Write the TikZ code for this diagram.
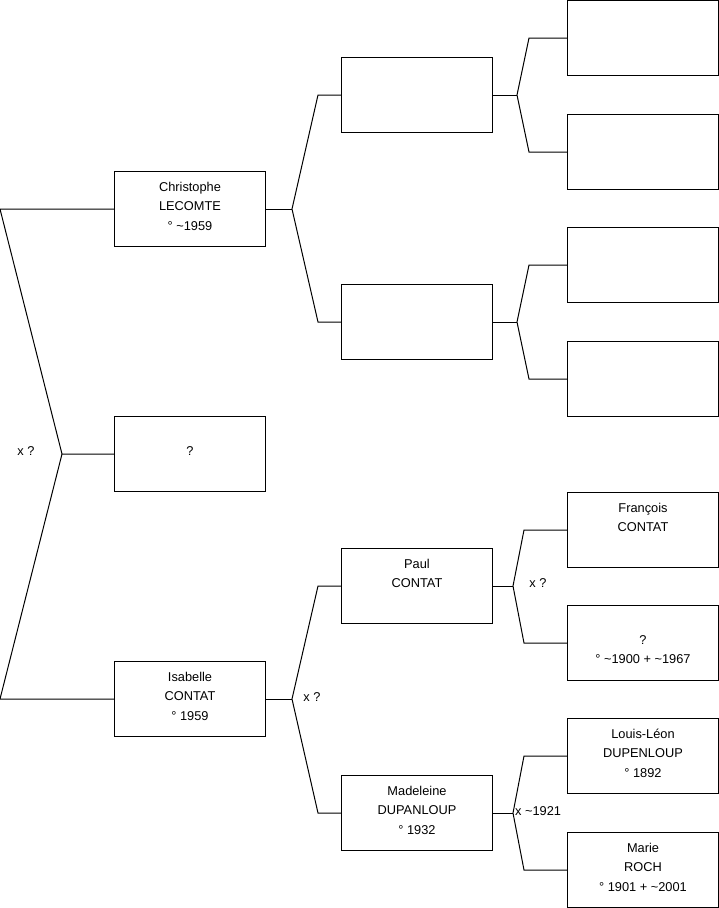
\documentclass[tikz,border=0pt]{standalone}
\usepackage{fontspec}
\setmainfont{Liberation Sans}
\usepackage{tikz}

\newcommand{\famtext}[1]{\parbox[c][75pt][t]{151pt}{\centering\vspace*{10.5pt}#1}}
\newcommand{\tld}{\textasciitilde}

\begin{document}
\begin{tikzpicture}[
  x=1pt, y=-1pt,
  every node/.style={font=\fontsize{12.8}{19.5}\selectfont},
  person/.style={draw, line width=1pt, inner sep=0pt, anchor=north west, minimum width=151pt, minimum height=75pt},
  link/.style={line width=1pt, line join=miter},
  union/.style={inner sep=0pt}
]
\useasboundingbox (0,0) rectangle (719,908);

% first generation
\node[person] (chris) at (114,171) {\famtext{Christophe\\LECOMTE\\° \tld1959}};
\node[person] (child) at (114,416) {\famtext{\vphantom{C}\\?}};
\node[person] (isab) at (114,661) {\famtext{Isabelle\\CONTAT\\° 1959}};

% second generation
\node[person] (cfath) at (341,57) {\famtext{}};
\node[person] (cmoth) at (341,284) {\famtext{}};
\node[person] (paul) at (341,548) {\famtext{Paul\\CONTAT}};
\node[person] (made) at (341,775) {\famtext{Madeleine\\DUPANLOUP\\° 1932}};

% third generation
\node[person] (cff) at (567,0) {\famtext{}};
\node[person] (cfm) at (567,114) {\famtext{}};
\node[person] (cmf) at (567,227) {\famtext{}};
\node[person] (cmm) at (567,341) {\famtext{}};
\node[person] (franc) at (567,492) {\famtext{François\\CONTAT}};
\node[person] (pmoth) at (567,605) {\famtext{\vphantom{C}\\?\\° \tld1900 + \tld1967}};
\node[person] (louis) at (567,718) {\famtext{Louis-Léon\\DUPENLOUP\\° 1892}};
\node[person] (marie) at (567,832) {\famtext{Marie\\ROCH\\° 1901 + \tld2001}};

% couple of the first generation
\coordinate (jroot) at (62,454);
\draw[link] (chris.west) -- ++(-114,0) -- (jroot) -- (child.west);
\draw[link] (isab.west) -- ++(-114,0) -- (jroot);
\node[union] (uroot) at (26,451) {x ?};

% parents of Christophe
\draw[link] (chris.east) -- ++(26,0) coordinate (jchris);
\draw[link] (cfath.west) -- ++(-23,0) -- (jchris) -- ([xshift=-23pt]cmoth.west) -- (cmoth.west);

% parents of Isabelle
\draw[link] (isab.east) -- ++(26,0) coordinate (jisab);
\draw[link] (paul.west) -- ++(-23,0) -- (jisab) -- ([xshift=-23pt]made.west) -- (made.west);
\node[union] (uisab) at (312,697) {x ?};

% grandparents
\draw[link] (cfath.east) -- ++(24,0) coordinate (jcf);
\draw[link] (cff.west) -- ++(-38,0) -- (jcf) -- ([xshift=-38pt]cfm.west) -- (cfm.west);
\draw[link] (cmoth.east) -- ++(24,0) coordinate (jcm);
\draw[link] (cmf.west) -- ++(-38,0) -- (jcm) -- ([xshift=-38pt]cmm.west) -- (cmm.west);
\draw[link] (paul.east) -- ++(20,0) coordinate (jpaul);
\draw[link] (franc.west) -- ++(-43,0) -- (jpaul) -- ([xshift=-43pt]pmoth.west) -- (pmoth.west);
\node[union] (upaul) at (538,583) {x ?};
\draw[link] (made.east) -- ++(20,0) coordinate (jmade);
\draw[link] (louis.west) -- ++(-43,0) -- (jmade) -- ([xshift=-43pt]marie.west) -- (marie.west);
\node[union, anchor=west] (umade) at (515,811) {x \tld1921};

\end{tikzpicture}
\end{document}
